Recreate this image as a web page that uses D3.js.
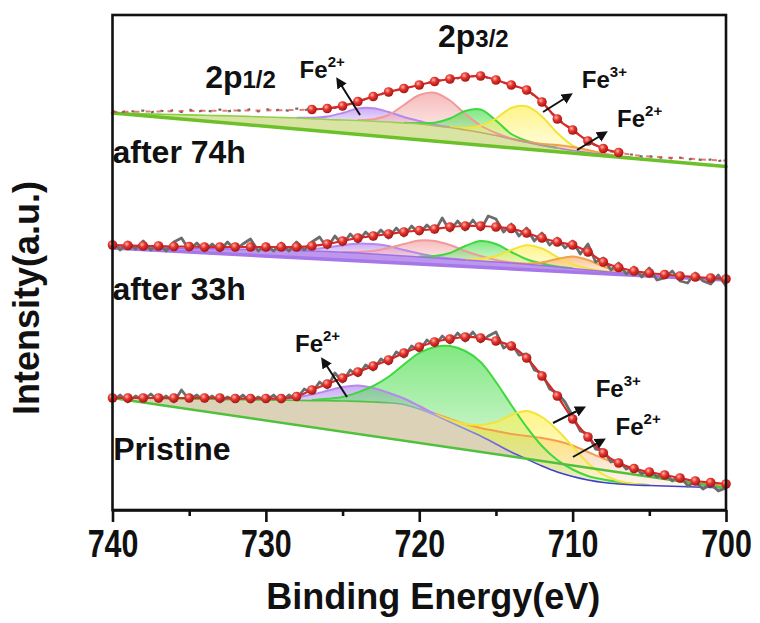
<!DOCTYPE html>
<html>
<head>
<meta charset="utf-8">
<script src="https://cdn.jsdelivr.net/npm/d3@7"></script>
<style>
  html, body { margin: 0; padding: 0; background: #fff; }
  svg { display: block; }
  text { font-family: "Liberation Sans", Arial, Helvetica, sans-serif; font-weight: bold; fill: #111; }
</style>
</head>
<body>
<svg id="chart" width="760" height="623"></svg>
<script>
// Fe 2p XPS spectra, binding energy axis running from high to low.

const xTicks = [740, 730, 720, 710, 700];
const xMinorTicks = [735, 725, 715, 705];

// ---- Pristine ----------------------------------------------------------
// fitted envelope, 1 eV steps from 740 to 700 eV
const pristineEnvelope = [112,112,112,112,112,112,112,112,111.5,111.5,111.5,111.5,113.5,
  120,126,132,138,144,150,157,163,168,171,173,172,169,164,152,134,114,91,73,57,47,41.5,38,35,32,29,27.5,26];
// measured counts, 0.5 eV steps from 740 to 700 eV
const pristineRaw = [109,115,108,114,110,116,109,114,108,120,
  110,115,109,114,108,113,109,115,108,113,
  109,115,108,115,111,121,117,128,122,137,
  128,140,134,145,140,151,146,158,153,164,
  159,170,164,174,167,177,169,178,168,174,
  178,162,167,155,156,140,137,121,117,108,
  94,79,76,61,60,48,50,41,44,36,
  40,33,37,29,35,24,28,21,26,19,
  22];
// Shirley background, 1 eV steps from 740 to 700 eV
const pristineShirley = [112,112,111.8,111.5,111.3,111,110.8,110.6,110.4,110.2,
  110,109.8,109.6,109.4,109.2,109,108.6,108,107.2,105.5,
  101,95,88,81,74,66,58,51,44,38,
  33.5,30,27.5,26,25,24.5,24,23.5,23,22.5,22];
// linear baseline at 740 eV and 700 eV
const pristineLinear = [112, 22];
const pristineComponents = [
  { key: "orange", from: 720, h: [0.5,1.5,3,5,8,13,18,23,28,31,31,28,24,20,16,12,9,6,4,3,2] },
  { key: "purple", from: 730, h: [0.3,1,3,6,10,14,16,14,10,6,3,1,0.3] },
  { key: "green",  from: 727, h: [0.5,2,4,9,16,26,40,56,68,76,78,74,62,47,32,20,12,7,4,3,2,1,0.5] },
  { key: "yellow", from: 719, h: [0.5,2,5,11,22,37,48,49,42,30,17,8,3,1,0.3] }
];

// ---- After 33 h --------------------------------------------------------
const after33Envelope = [265,264.5,264,264,263.5,263.5,263,263,263,263,263,263,263,
  264,266,269,272,274,276,278,279.5,281,283,284,284,283,281.5,277,272,268,265,258,248,242.5,239,237,235.5,234,233,232,231];
const after33Raw = [269,260,268,261,269,260,267,259,268,272,
  260,267,259,266,259,268,260,266,271,259,
  266,259,267,259,268,260,268,273,262,274,
  265,276,268,278,271,280,272,282,274,284,
  276,285,278,292,279,289,280,290,280,294,
  291,278,286,274,282,269,277,265,272,262,
  269,256,266,248,252,240,247,236,243,233,
  242,230,232,239,229,227,237,229,226,235,
  224];
const after33Shirley = [263,262.8,262.5,262.3,262,261.8,261.5,261.3,261,260.6,
  260.3,260,259.5,259,258.5,257.8,257,256,255,254,
  253,252,251,250,249,248,247,245.8,244.5,243,
  241.5,240,238.5,237.2,236,235,234,233,232,231.2,230.5];
const after33Linear = [262, 230];
const after33Components = [
  { key: "purple", from: 729, h: [0.3,1,2,4,7,9.5,10,9,6,3.5,1.5,0.5,0.2] },
  { key: "pink",   from: 725, h: [0.3,1,3,7,12,16.5,17,14,9,5,2,0.5,0.2] },
  { key: "green",  from: 720, h: [0.5,2,6,14,20,18,11,5,2,0.5,0.2] },
  { key: "yellow", from: 717, h: [0.5,2,6,13,19,17,10,4,1.5,0.5,0.2] },
  { key: "orange", from: 714, h: [0.2,0.5,3,8,12,10,5,1.5,0.5,0.2] }
];

// ---- After 74 h --------------------------------------------------------
const after74Envelope = [398,398.2,398.4,398.6,398.8,399,399.2,399.3,399.4,399.5,399.6,399.8,400,
  400.5,401.5,404,408.5,413.5,418,421.5,425,428.5,431,433,434,430,425,420,408,391,380,369,361.5,357.5,355,353.5,352.5,352,351,350,349.5];
const after74Raw = [399,397,400,398,399.5,397.5,400,398,400,398,400.5,398,400,398.5,400.5,398.5,400.5,398.5,401,398.5,
  401,399,401,399,401.5,399.5,402,400.5,403,402,405.5,405.5,410,410.5,415,415.5,419.5,419.5,423,423,
  426.5,426.5,430,429.5,432.5,431.5,434.5,433,435.5,431.5,431,427,426,422,421,414,409,399,392,385,
  381,374,370,364,362,358.5,358,355.5,355.5,353.5,354,352,353,351.5,352.5,350.5,351.5,349.5,350.5,349,350];
const after74Shirley = [397,396.6,396.2,395.9,395.5,395.1,394.7,394.4,394,393.5,
  393,392.5,392,391.3,390.5,390,389.5,388.8,388,387,
  386,384.3,382.5,380,377.5,374.5,371,367.7,364.5,362,
  359.5,357.5,355.5,353.7,352,350.5,349,347.5,346,344.8,343.5];
const after74Linear = [397, 343.5];
const after74Components = [
  { key: "purple", from: 728, h: [0.3,1,3,7,12,13,10,6,3,1,0.3] },
  { key: "pink",   from: 724, h: [0.5,2,7,18,29,33,27,16,7,2.5,0.5,0.2] },
  { key: "green",  from: 721, h: [0.3,1,3,9,19,23,15,5,1.5,0.5,0.2] },
  { key: "yellow", from: 718, h: [0.5,2,7,17,31,36,29,15,5,1.5,0.5,0.2] },
  { key: "orange", from: 714, h: [0.2,0.5,1.5,3,3.5,2.5,1,0.3,0.1] }
];

// sample labels and peak annotations (energy, intensity)
const sampleLabels = [
  { text: "after 74h", e: 740, v: 347 },
  { text: "after 33h", e: 740, v: 210 },
  { text: "Pristine",  e: 739.95, v: 50 }
];
const peakLabels = [
  { base: "Fe", sup: "2+", e: 727.8, v: 432 },
  { base: "Fe", sup: "3+", e: 709.4, v: 422 },
  { base: "Fe", sup: "2+", e: 707.1, v: 383 },
  { base: "Fe", sup: "2+", e: 728.1, v: 158 },
  { base: "Fe", sup: "3+", e: 708.5, v: 113 },
  { base: "Fe", sup: "2+", e: 707.2, v: 75 }
];
const arrows = [
  { e0: 723.86, v0: 395, e1: 725.3, v1: 430 },
  { e0: 711.93, v0: 398, e1: 710.17, v1: 415 },
  { e0: 709.71, v0: 360, e1: 707.89, v1: 377 },
  { e0: 724.71, v0: 113, e1: 726.28, v1: 150 },
  { e0: 711.28, v0: 87,  e1: 709.32, v1: 102 },
  { e0: 709.98, v0: 53,  e1: 708.02, v1: 70 }
];
const orbitalLabels = [
  { main: "2p", sub: "1/2", e: 733.96, v: 422 },
  { main: "2p", sub: "3/2", e: 718.78, v: 463 }
];

// ---- drawing -----------------------------------------------------------
const svg = d3.select("#chart");
const x = d3.scaleLinear().domain([740, 700]).range([112.5, 726]);
const y = d3.scaleLinear().domain([0, 495]).range([510, 15]);
const gridE = d3.range(740, 699.5, -1);
const rawE = d3.range(740, 699.75, -0.5);

const palette = {
  purple: { stroke: "#b689ee", fill: "#b88cf0" },
  pink:   { stroke: "#f29a9a", fill: "#f3a0a0" },
  green:  { stroke: "#3fd83f", fill: "#52de52" },
  yellow: { stroke: "#f3e43a", fill: "#fff05a" },
  orange: { stroke: "#f2a04a", fill: "#f5ac68" }
};

const defs = svg.append("defs");
const ball = defs.append("radialGradient").attr("id", "ball")
  .attr("cx", "38%").attr("cy", "34%").attr("r", "66%");
ball.append("stop").attr("offset", "0%").attr("stop-color", "#ffb4aa");
ball.append("stop").attr("offset", "45%").attr("stop-color", "#e6342d");
ball.append("stop").attr("offset", "100%").attr("stop-color", "#a51515");

Object.entries(palette).forEach(([k, c]) => {
  const g = defs.append("linearGradient").attr("id", "fill-" + k)
    .attr("x1", 0).attr("y1", 0).attr("x2", 0).attr("y2", 1);
  g.append("stop").attr("offset", "0%").attr("stop-color", c.fill).attr("stop-opacity", 0.72);
  g.append("stop").attr("offset", "100%").attr("stop-color", c.fill).attr("stop-opacity", 0.1);
});

function strokeGradient(id, stops) {
  const g = defs.append("linearGradient").attr("id", id)
    .attr("gradientUnits", "userSpaceOnUse")
    .attr("x1", x(740)).attr("y1", 0).attr("x2", x(700)).attr("y2", 0);
  stops.forEach(([o, c]) => g.append("stop").attr("offset", o).attr("stop-color", c));
}
strokeGradient("sb-pristine", [[0, "#4fc13d"], [0.42, "#4fc13d"], [0.52, "#a9a6e8"], [0.7, "#3f3fd0"], [1, "#3f3fd0"]]);
strokeGradient("sb-33", [[0, "#a06fe6"], [1, "#a06fe6"]]);
strokeGradient("sb-74", [[0, "#7fd03c"], [0.45, "#9ccf50"], [0.6, "#c9a868"], [0.8, "#a77be8"], [1, "#a77be8"]]);

defs.append("marker").attr("id", "arrowhead")
  .attr("viewBox", "0 0 10 10").attr("refX", 7).attr("refY", 5)
  .attr("markerWidth", 5.5).attr("markerHeight", 5.5).attr("orient", "auto")
  .append("path").attr("d", "M0,0 L10,5 L0,10 z").attr("fill", "#111");

const spectra = [
  { env: pristineEnvelope, raw: pristineRaw, sb: pristineShirley, lin: pristineLinear,
    comps: pristineComponents, band: "#d2c7a6", bandOpacity: 0.8, sbStroke: "url(#sb-pristine)",
    linColor: "#4fc13d", linWidth: 2.5, balls: [700, 740] },
  { env: after33Envelope, raw: after33Raw, sb: after33Shirley, lin: after33Linear,
    comps: after33Components, band: "#b185ea", bandOpacity: 0.85, sbStroke: "url(#sb-33)",
    linColor: "#a577e8", linWidth: 3.5, balls: [700, 740] },
  { env: after74Envelope, raw: after74Raw, sb: after74Shirley, lin: after74Linear,
    comps: after74Components, band: "#d0dc8c", bandOpacity: 0.8, sbStroke: "url(#sb-74)",
    linColor: "#6cc12a", linWidth: 3.5, balls: [707, 727] }
];

const plot = svg.append("g");

function drawSpectrum(s) {
  const g = plot.append("g");
  const sbAt = e => s.sb[Math.round(740 - e)];
  const linAt = e => s.lin[0] + (s.lin[1] - s.lin[0]) * (740 - e) / 40;

  // region between the Shirley and the linear background
  g.append("path")
    .attr("d", d3.area().curve(d3.curveMonotoneX)
      .x(e => x(e)).y0(e => y(linAt(e))).y1(e => y(Math.max(sbAt(e), linAt(e))))(gridE))
    .attr("fill", s.band).attr("fill-opacity", s.bandOpacity);

  // fitted components on top of the Shirley background
  s.comps.forEach(c => {
    const pts = c.h.map((h, i) => ({ e: c.from - i, h }));
    g.append("path")
      .attr("d", d3.area().curve(d3.curveCatmullRom)
        .x(p => x(p.e)).y0(p => y(sbAt(p.e))).y1(p => y(sbAt(p.e) + p.h))(pts))
      .attr("fill", "url(#fill-" + c.key + ")");
  });
  s.comps.forEach(c => {
    const pts = c.h.map((h, i) => ({ e: c.from - i, h }));
    g.append("path")
      .attr("d", d3.line().curve(d3.curveCatmullRom)
        .x(p => x(p.e)).y(p => y(sbAt(p.e) + p.h))(pts))
      .attr("fill", "none").attr("stroke", palette[c.key].stroke).attr("stroke-width", 2);
  });

  // backgrounds
  g.append("path")
    .attr("d", d3.line().curve(d3.curveMonotoneX).x(e => x(e)).y(e => y(sbAt(e)))(gridE))
    .attr("fill", "none").attr("stroke", s.sbStroke).attr("stroke-width", 1.6);
  g.append("line")
    .attr("x1", x(740)).attr("y1", y(s.lin[0]))
    .attr("x2", x(700)).attr("y2", y(s.lin[1]))
    .attr("stroke", s.linColor).attr("stroke-width", s.linWidth).attr("stroke-linecap", "round");

  // measured data
  const rawLine = d3.line().x((v, i) => x(rawE[i])).y(v => y(v));
  const partial = s.balls[0] > 700 || s.balls[1] < 740;
  g.append("path").attr("d", rawLine(s.raw))
    .attr("fill", "none").attr("stroke", "#6c6c6c").attr("stroke-width", partial ? 2.2 : 2.8)
    .attr("stroke-linejoin", "round")
    .attr("stroke-dasharray", partial ? "3 7" : null);

  // fitted envelope with sphere markers
  const envLine = d3.line().curve(d3.curveCatmullRom).x(p => x(p.e)).y(p => y(p.v));
  const envPts = s.env.map((v, i) => ({ e: gridE[i], v }));
  const inBalls = p => p.e >= s.balls[0] && p.e <= s.balls[1];
  if (partial) {
    g.append("path").attr("d", envLine(envPts))
      .attr("fill", "none").attr("stroke", "#e0504a").attr("stroke-width", 2)
      .attr("stroke-dasharray", "5 6").attr("stroke-opacity", 0.75);
  }
  g.append("path").attr("d", envLine(envPts.filter(inBalls)))
    .attr("fill", "none").attr("stroke", "#d42a28").attr("stroke-width", 2.2);
  g.selectAll("circle.pt").data(envPts.filter(inBalls)).join("circle")
    .attr("class", "pt")
    .attr("cx", p => x(p.e)).attr("cy", p => y(p.v)).attr("r", 4.8)
    .attr("fill", "url(#ball)");
}
spectra.forEach(drawSpectrum);

// ---- frame and axis ----------------------------------------------------
svg.append("rect")
  .attr("x", x(740)).attr("y", y(495))
  .attr("width", x(700) - x(740)).attr("height", y(0) - y(495))
  .attr("fill", "none").attr("stroke", "#111").attr("stroke-width", 2.6);

const axisG = svg.append("g").attr("transform", `translate(0,${y(0)})`);
axisG.call(d3.axisBottom(x).tickValues(xTicks).tickSize(12).tickSizeOuter(0).tickPadding(8)
  .tickFormat(d3.format("d")));
axisG.select(".domain").attr("stroke", "#111").attr("stroke-width", 2.6);
axisG.selectAll(".tick line").attr("stroke", "#111").attr("stroke-width", 2.6);
// condensed bold tick numerals
axisG.selectAll(".tick text")
  .style("font-family", "'Liberation Sans', Arial, sans-serif")
  .style("font-weight", "bold").style("font-size", "38px").attr("fill", "#111")
  .attr("transform", "scale(0.8,1)");

const minorG = svg.append("g").attr("transform", `translate(0,${y(0)})`);
minorG.call(d3.axisBottom(x).tickValues(xMinorTicks).tickSize(6).tickSizeOuter(0).tickFormat(""));
minorG.select(".domain").remove();
minorG.selectAll(".tick line").attr("stroke", "#111").attr("stroke-width", 2.6);

svg.append("text")
  .attr("x", (x(740) + x(700)) / 2 + 14).attr("y", 609)
  .attr("text-anchor", "middle").style("font-size", "36px")
  .text("Binding Energy(eV)");

svg.append("text")
  .attr("transform", "translate(39,298) rotate(-90)")
  .attr("text-anchor", "middle").style("font-size", "36px")
  .text("Intensity(a.u.)");

// ---- annotations -------------------------------------------------------
sampleLabels.forEach(d => {
  svg.append("text").attr("x", x(d.e)).attr("y", y(d.v))
    .style("font-size", "32px").text(d.text);
});

orbitalLabels.forEach(d => {
  const t = svg.append("text").attr("x", x(d.e)).attr("y", y(d.v));
  t.append("tspan").style("font-size", "32px").text(d.main);
  t.append("tspan").style("font-size", "24px").text(d.sub);
});

peakLabels.forEach(d => {
  const t = svg.append("text").attr("x", x(d.e)).attr("y", y(d.v));
  t.append("tspan").style("font-size", "24px").text(d.base);
  t.append("tspan").style("font-size", "15px").attr("dy", -11).text(d.sup);
});

arrows.forEach(a => {
  svg.append("line")
    .attr("x1", x(a.e0)).attr("y1", y(a.v0))
    .attr("x2", x(a.e1)).attr("y2", y(a.v1))
    .attr("stroke", "#111").attr("stroke-width", 2)
    .attr("marker-end", "url(#arrowhead)");
});
</script>
</body>
</html>
